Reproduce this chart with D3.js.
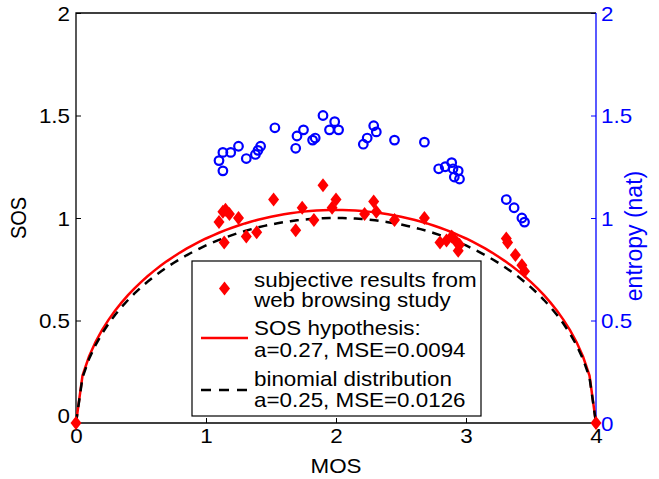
<!DOCTYPE html>
<html>
<head>
<meta charset="utf-8">
<script src="https://cdn.jsdelivr.net/npm/d3@7"></script>
<style>
  html, body { margin: 0; padding: 0; background: #fff; }
  svg { display: block; font-family: "Liberation Sans", Arial, Helvetica, sans-serif; }
</style>
</head>
<body>
<svg id="chart" width="659" height="479"></svg>
<script>
// subjective results (MOS, SOS) from the web browsing study
const MOS_SUBJ = [0, 1.10, 1.13, 1.15, 1.18, 1.25, 1.14, 1.31, 1.39, 1.52, 1.69, 1.74, 1.83, 1.90, 1.97, 2.00,
  2.22, 2.29, 2.31, 2.45, 2.68, 2.80, 2.85, 2.89, 2.93, 2.94, 2.95, 3.31, 3.32, 3.38, 3.43, 3.45, 4];
const SOS_SUBJ = [0, 0.98, 1.03, 1.04, 1.02, 1.00, 0.88, 0.91, 0.93, 1.09, 0.94, 1.05, 0.99, 1.16, 1.05, 1.09,
  1.02, 1.08, 1.03, 0.99, 1.00, 0.88, 0.89, 0.91, 0.88, 0.84, 0.87, 0.90, 0.88, 0.82, 0.77, 0.74, 0];

// entropy of the rating distributions (right axis)
const MOS_ENT = [1.10, 1.13, 1.13, 1.19, 1.25, 1.31, 1.38, 1.40, 1.42, 1.53, 1.69, 1.70, 1.75, 1.82, 1.84, 1.90,
  1.95, 1.99, 2.02, 2.21, 2.24, 2.29, 2.31, 2.45, 2.68, 2.79, 2.84, 2.89, 2.90, 2.94, 2.91, 2.95, 3.31, 3.37, 3.43, 3.45];
const ENTROPY = [1.28, 1.23, 1.32, 1.32, 1.35, 1.29, 1.31, 1.33, 1.35, 1.44, 1.34, 1.40, 1.43, 1.38, 1.39, 1.50,
  1.43, 1.47, 1.43, 1.36, 1.39, 1.45, 1.42, 1.38, 1.37, 1.24, 1.25, 1.27, 1.24, 1.23, 1.20, 1.19, 1.09, 1.05, 1.00, 0.98];

// fitted models: SOS^2 = a * (-MOS^2 + 4*MOS)
const A_SOS = 0.27;   // SOS hypothesis
const A_BIN = 0.25;   // binomial distribution
const MOS_GRID = d3.range(0, 4.0001, 0.05);

const X_TICKS = [0, 1, 2, 3, 4];
const Y_TICKS = [0, 0.5, 1, 1.5, 2];
const LEGEND_LINES = [
  ['subjective results from', 'web browsing study'],
  ['SOS hypothesis:', 'a=0.27, MSE=0.0094'],
  ['binomial distribution', 'a=0.25, MSE=0.0126']
];

const SX = 1.12;      // picture is slightly wider than tall, text too
const FS = 20;
const plot = { left: 76, right: 596, top: 13, bottom: 423 };

const svg = d3.select('#chart');
const x = d3.scaleLinear().domain([0, 4]).range([plot.left, plot.right]);
const y = d3.scaleLinear().domain([0, 2]).range([plot.bottom, plot.top]);
const y2 = d3.scaleLinear().domain([0, 2]).range([plot.bottom, plot.top]);

function stretchText(sel) {
  sel.attr('x', 0).attr('y', 0).attr('dy', null)
    .style('font-size', FS + 'px');
}

// axes
const gx = svg.append('g').attr('transform', `translate(0,${plot.bottom})`)
  .call(d3.axisBottom(x).tickValues(X_TICKS).tickSize(-5).tickSizeOuter(0).tickFormat(d3.format('')));
gx.selectAll('text').call(stretchText)
  .attr('text-anchor', 'middle')
  .attr('transform', `translate(0,20) scale(${SX},1)`);

const gy = svg.append('g').attr('transform', `translate(${plot.left},0)`)
  .call(d3.axisLeft(y).tickValues(Y_TICKS).tickSize(-5).tickSizeOuter(0).tickFormat(d3.format('')));
gy.selectAll('text').call(stretchText)
  .attr('text-anchor', 'end')
  .attr('transform', d => `translate(-6,${d === 0 ? -1 : 7}) scale(${SX},1)`);

const gy2 = svg.append('g').attr('transform', `translate(${plot.right},0)`)
  .call(d3.axisRight(y2).tickValues(Y_TICKS).tickSize(-5).tickSizeOuter(0).tickFormat(d3.format('')));
gy2.selectAll('text').call(stretchText)
  .attr('text-anchor', 'start')
  .attr('fill', '#0000ff')
  .attr('transform', `translate(5,7) scale(${SX},1)`);

[gx, gy, gy2].forEach(g => g.select('.domain').remove());
gx.selectAll('line').attr('stroke', '#000');
gy.selectAll('line').attr('stroke', '#000');
gy2.selectAll('line').attr('stroke', '#0000ff');

// box
svg.append('path')
  .attr('d', `M${plot.right},${plot.top}H${plot.left}V${plot.bottom}H${plot.right}`)
  .attr('fill', 'none').attr('stroke', '#000').attr('stroke-width', 1.3);
svg.append('line')
  .attr('x1', plot.right).attr('x2', plot.right).attr('y1', plot.top).attr('y2', plot.bottom)
  .attr('stroke', '#0000ff').attr('stroke-width', 1.3);

// axis labels
svg.append('text').text('MOS')
  .attr('text-anchor', 'middle').style('font-size', FS + 'px')
  .attr('transform', `translate(${(plot.left + plot.right) / 2},473) scale(${SX},1)`);
svg.append('text').text('SOS')
  .attr('text-anchor', 'middle').style('font-size', FS + 'px')
  .attr('transform', `translate(26,${(plot.top + plot.bottom) / 2}) scale(${SX},1) rotate(-90)`);
svg.append('text').text('entropy (nat)')
  .attr('text-anchor', 'middle').style('font-size', '23px').attr('fill', '#0000ff')
  .attr('transform', `translate(642,236) scale(1.0,1) rotate(-90)`);

// model curves
const sosLine = a => d3.line()
  .x(m => x(m))
  .y(m => y(Math.sqrt(Math.max(0, a * (-m * m + 4 * m)))));

svg.append('path').datum(MOS_GRID)
  .attr('d', sosLine(A_SOS))
  .attr('fill', 'none').attr('stroke', '#ff0000').attr('stroke-width', 2.5);
svg.append('path').datum(MOS_GRID)
  .attr('d', sosLine(A_BIN))
  .attr('fill', 'none').attr('stroke', '#000').attr('stroke-width', 2.5)
  .attr('stroke-dasharray', '9,7');

// entropy circles
svg.append('g').selectAll('circle')
  .data(MOS_ENT.map((m, i) => [m, ENTROPY[i]]))
  .join('circle')
  .attr('cx', d => x(d[0])).attr('cy', d => y2(d[1])).attr('r', 4.3)
  .attr('fill', 'none').attr('stroke', '#0000ff').attr('stroke-width', 2.2);

// subjective diamonds
const diamond = (cx, cy) => `M${cx},${cy - 7}L${cx + 5.5},${cy}L${cx},${cy + 7}L${cx - 5.5},${cy}Z`;
svg.append('g').selectAll('path')
  .data(MOS_SUBJ.map((m, i) => [m, SOS_SUBJ[i]]))
  .join('path')
  .attr('d', d => diamond(x(d[0]), y(d[1])))
  .attr('fill', '#ff0000');

// legend
const lg = svg.append('g');
lg.append('rect').attr('x', 192).attr('y', 261).attr('width', 289).attr('height', 155)
  .attr('fill', '#fff').attr('stroke', '#000').attr('stroke-width', 1.2);
const baselines = [[287, 307], [335, 357], [386, 407]];
LEGEND_LINES.forEach((pair, i) => {
  pair.forEach((t, j) => {
    lg.append('text').text(t).style('font-size', FS + 'px')
      .attr('transform', `translate(254,${baselines[i][j]}) scale(${SX},1)`);
  });
});
lg.append('path').attr('d', diamond(224.5, 288.5)).attr('fill', '#ff0000');
lg.append('line').attr('x1', 201).attr('x2', 248).attr('y1', 338).attr('y2', 338)
  .attr('stroke', '#ff0000').attr('stroke-width', 2.5);
lg.append('line').attr('x1', 201).attr('x2', 248).attr('y1', 390).attr('y2', 390)
  .attr('stroke', '#000').attr('stroke-width', 2.5).attr('stroke-dasharray', '10,8');
</script>
</body>
</html>
